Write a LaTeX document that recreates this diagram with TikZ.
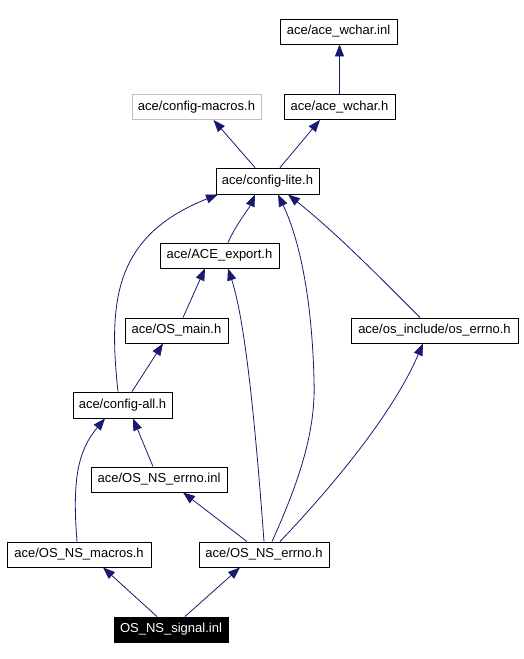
\documentclass[tikz,border=0pt]{standalone}
\usepackage{fontspec}
\setmainfont{Liberation Sans}
\usetikzlibrary{arrows.meta}
\definecolor{edgeblue}{HTML}{191970}
\definecolor{greyborder}{HTML}{BFBFBF}
\tikzset{
  filebox/.style={draw=black, line width=0.9pt, fill=white, inner sep=0pt,
    minimum height=25pt, font=\fontsize{13}{15}\selectfont, text=black},
  greybox/.style={filebox, draw=greyborder},
  rootbox/.style={filebox, fill=black, text=white},
  dep/.style={draw=edgeblue, line width=0.8pt,
    -{Triangle[length=12pt,width=9pt,fill=edgeblue]}},
}
\begin{document}
\begin{tikzpicture}[x=1pt,y=-1pt]
\useasboundingbox (0,0) rectangle (524,659);
\node[filebox, minimum width=117pt] (inl)   at (338.5,31.5)  {ace/ace\_wchar.inl};
\node[greybox, minimum width=129pt] (cmac)  at (196.5,107)   {ace/config-macros.h};
\node[filebox, minimum width=111pt] (wchar) at (339.5,107)   {ace/ace\_wchar.h};
\node[filebox, minimum width=103pt, minimum height=26pt] (lite) at (267.5,181) {ace/config-lite.h};
\node[filebox, minimum width=119pt] (export) at (219.5,255.5) {ace/ACE\_export.h};
\node[filebox, minimum width=103pt] (osmain) at (176.5,330.5) {ace/OS\_main.h};
\node[filebox, minimum width=167pt] (oserrno) at (434.5,330.5) {ace/os\_include/os\_errno.h};
\node[filebox, minimum width=99pt, minimum height=26pt] (cfgall) at (122.5,405) {ace/config-all.h};
\node[filebox, minimum width=136pt] (nsinl) at (159,479.5) {ace/OS\_NS\_errno.inl};
\node[filebox, minimum width=144pt] (nsmac) at (79,554.5) {ace/OS\_NS\_macros.h};
\node[filebox, minimum width=130pt] (nserr) at (264,554.5) {ace/OS\_NS\_errno.h};
\node[rootbox, minimum width=114pt] (signal) at (171,629.5) {OS\_NS\_signal.inl};

% edges (arrow at the included file)
\draw[dep] (wchar.north) -- (wchar.north |- inl.south);
\draw[dep] ([xshift=-12.5pt]lite.north) -- ([xshift=17pt]cmac.south);
\draw[dep] ([xshift=12.5pt]lite.north) -- ([xshift=-19.5pt]wchar.south);
\draw[dep] ([xshift=8.5pt]export.north) .. controls +(8,-18) and +(-6,14) .. ([xshift=-12.5pt]lite.south);
\draw[dep] ([xshift=-4.5pt]cfgall.north) .. controls +(-10,-92) and +(-103,41) .. ([xshift=-49.5pt]lite.south);
\draw[dep] ([xshift=6.5pt]osmain.north) -- ([xshift=-14.5pt]export.south);
\draw[dep] (nserr.north) .. controls +(-9,-122) and +(17,52) .. ([xshift=8.5pt]export.south);
\coordinate (bend) at (314,380);
\draw[dep] ([xshift=8pt]nserr.north) .. controls +(28,-62) and +(2,50) .. (bend)
  .. controls +(-2,-80) and +(22,46) .. ([xshift=10.5pt]lite.south);
\draw[dep] ([xshift=-14.5pt]oserrno.north) .. controls +(-40,-40) and +(50,40) .. ([xshift=20.5pt]lite.south);
\draw[dep] ([xshift=16pt]nserr.north) .. controls +(40,-42) and +(-33,77) .. ([xshift=-11.5pt]oserrno.south);
\draw[dep] ([xshift=-17pt]nserr.north) -- ([xshift=24pt]nsinl.south);
\draw[dep] ([xshift=-6pt]nsinl.north) -- ([xshift=10.5pt]cfgall.south);
\draw[dep] ([xshift=-2pt]nsmac.north) .. controls +(-5,-62) and +(-27,32) .. ([xshift=-17.5pt]cfgall.south);
\draw[dep] ([xshift=9.5pt]cfgall.north) -- ([xshift=-13.5pt]osmain.south);
\draw[dep] ([xshift=-14pt]signal.north) -- ([xshift=24pt]nsmac.south);
\draw[dep] ([xshift=14pt]signal.north) -- ([xshift=-24pt]nserr.south);
\end{tikzpicture}
\end{document}
